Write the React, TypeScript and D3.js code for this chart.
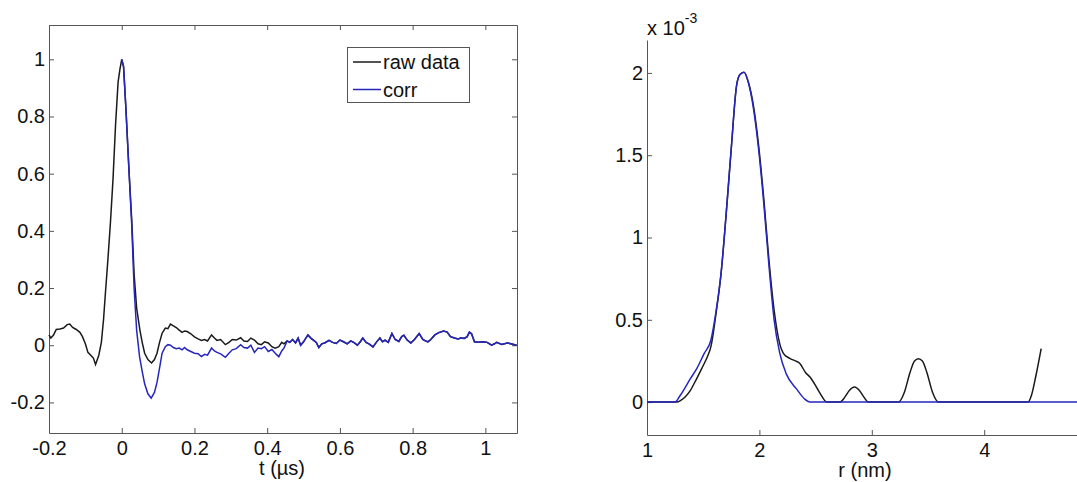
import React, { useRef, useEffect } from 'react';
import * as d3 from 'd3';

// left panel: time trace, t in µs
const tRaw = [-0.2, -0.195, -0.188, -0.18, -0.17, -0.16, -0.15, -0.143, -0.135, -0.125, -0.115, -0.108, -0.1, -0.093, -0.085, -0.078, -0.072, -0.063, -0.056, -0.05, -0.045, -0.038, -0.031, -0.024, -0.017, -0.01, -0.005, 0, 0.005, 0.011, 0.02, 0.0275, 0.034, 0.041, 0.05, 0.056, 0.063, 0.072, 0.082, 0.09, 0.097, 0.104, 0.111, 0.12, 0.127, 0.134, 0.142, 0.15, 0.158, 0.166, 0.173, 0.18, 0.19, 0.2, 0.21, 0.219, 0.228, 0.236, 0.247, 0.255, 0.262, 0.272, 0.285, 0.295, 0.304, 0.315, 0.327, 0.336, 0.346, 0.355, 0.365, 0.375, 0.384, 0.393, 0.403, 0.413, 0.422, 0.432, 0.44, 0.446];
const vRaw = [0.036, 0.025, 0.035, 0.055, 0.057, 0.06, 0.072, 0.074, 0.062, 0.055, 0.045, 0.03, 0.005, -0.025, -0.035, -0.045, -0.067, -0.035, 0.01, 0.09, 0.18, 0.3, 0.43, 0.58, 0.77, 0.92, 0.965, 1, 0.975, 0.84, 0.61, 0.44, 0.25, 0.13, 0.053, 0.012, -0.028, -0.05, -0.062, -0.05, -0.028, 0.01, 0.042, 0.06, 0.058, 0.074, 0.068, 0.062, 0.053, 0.045, 0.05, 0.048, 0.04, 0.029, 0.022, 0.017, 0.02, 0.015, 0.036, 0.025, 0.017, 0.02, 0.002, 0.01, 0.02, 0.018, 0.026, 0.015, 0.013, 0.025, 0.018, 0.005, 0.002, 0.012, 0.008, -0.005, -0.01, -0.005, 0.01, 0.005];

const tCorr = [0, 0.005, 0.011, 0.02, 0.0275, 0.034, 0.041, 0.049, 0.056, 0.063, 0.072, 0.081, 0.09, 0.097, 0.104, 0.111, 0.12, 0.127, 0.134, 0.142, 0.15, 0.158, 0.166, 0.173, 0.18, 0.19, 0.2, 0.21, 0.219, 0.228, 0.236, 0.247, 0.255, 0.262, 0.272, 0.285, 0.295, 0.304, 0.315, 0.327, 0.336, 0.346, 0.355, 0.365, 0.375, 0.384, 0.393, 0.403, 0.413, 0.422, 0.432, 0.44, 0.446];
const vCorr = [1, 0.975, 0.84, 0.61, 0.42, 0.2, 0.053, -0.04, -0.09, -0.135, -0.17, -0.185, -0.165, -0.13, -0.08, -0.028, -0.005, 0.002, 0, -0.008, -0.012, -0.01, -0.016, -0.008, -0.016, -0.022, -0.028, -0.03, -0.04, -0.032, -0.035, -0.01, -0.02, -0.025, -0.03, -0.042, -0.028, -0.016, -0.012, 0.002, -0.008, -0.01, 0, -0.025, -0.01, -0.012, -0.005, -0.022, -0.015, -0.028, -0.04, -0.02, -0.01];

// after ~0.45 µs both traces coincide
const tTail = [0.455, 0.462, 0.47, 0.478, 0.485, 0.492, 0.5, 0.512, 0.52, 0.527, 0.535, 0.542, 0.55, 0.558, 0.57, 0.58, 0.59, 0.6, 0.61, 0.62, 0.63, 0.64, 0.648, 0.656, 0.663, 0.672, 0.681, 0.691, 0.7, 0.71, 0.717, 0.724, 0.733, 0.743, 0.752, 0.762, 0.77, 0.776, 0.785, 0.795, 0.805, 0.818, 0.828, 0.835, 0.842, 0.85, 0.861, 0.872, 0.885, 0.895, 0.904, 0.915, 0.925, 0.932, 0.942, 0.95, 0.956, 0.962, 0.97, 0.98, 0.993, 1.005, 1.017, 1.025, 1.031, 1.045, 1.06, 1.07, 1.086];
const vTail = [0.015, 0.01, 0.02, 0.008, 0.025, 0, 0.012, 0.036, 0.025, 0.018, 0.01, -0.008, 0.005, 0.008, 0.017, 0.01, 0.006, 0.018, 0.012, 0.005, 0.015, 0.008, 0, 0.012, 0.025, 0.01, 0.004, -0.006, 0.01, 0.025, 0.012, 0.018, 0.01, 0.041, 0.02, 0.013, 0.03, 0.035, 0.018, 0.008, 0.02, 0.041, 0.02, 0.015, 0.012, 0.02, 0.036, 0.044, 0.05, 0.046, 0.03, 0.025, 0.022, 0.025, 0.024, 0.03, 0.046, 0.04, 0.012, 0.01, 0.012, 0.01, 0, 0.005, 0.01, 0.003, 0.008, 0.005, 0];

const tTicks = [-0.2, 0, 0.2, 0.4, 0.6, 0.8, 1];
const vTicks = [-0.2, 0, 0.2, 0.4, 0.6, 0.8, 1];
const legendLabels = ['raw data', 'corr'];

// right panel: distance distribution, P(r) in units of 1e-3
const rRaw = [1, 1.264, 1.3, 1.386, 1.44, 1.477, 1.508, 1.54, 1.568, 1.614, 1.659, 1.705, 1.751, 1.796, 1.827, 1.863, 1.903, 1.948, 1.994, 2.04, 2.085, 2.131, 2.18, 2.22, 2.27, 2.32, 2.36, 2.41, 2.45, 2.5, 2.54, 2.6, 2.719, 2.76, 2.8, 2.846, 2.89, 2.93, 2.97, 3.238, 3.29, 3.34, 3.38, 3.415, 3.45, 3.49, 3.54, 3.593, 4.39, 4.42, 4.46, 4.507];
const pRaw = [0, 0, 0.01, 0.071, 0.14, 0.19, 0.233, 0.28, 0.335, 0.538, 0.782, 1.148, 1.553, 1.919, 1.99, 2.004, 1.94, 1.797, 1.553, 1.228, 0.862, 0.558, 0.357, 0.29, 0.266, 0.25, 0.235, 0.18, 0.152, 0.1, 0.053, 0, 0, 0.03, 0.07, 0.091, 0.07, 0.03, 0, 0, 0.06, 0.18, 0.25, 0.264, 0.25, 0.18, 0.06, 0, 0, 0.04, 0.16, 0.325];

const rCorr = [1, 1.249, 1.295, 1.386, 1.44, 1.508, 1.568, 1.614, 1.659, 1.705, 1.751, 1.796, 1.827, 1.863, 1.903, 1.948, 1.994, 2.04, 2.085, 2.131, 2.18, 2.24, 2.33, 2.4, 2.45, 5];
const pCorr = [0, 0, 0.04, 0.142, 0.2, 0.294, 0.376, 0.55, 0.782, 1.148, 1.553, 1.919, 1.99, 2.004, 1.94, 1.78, 1.53, 1.2, 0.83, 0.5, 0.3, 0.17, 0.08, 0.02, 0, 0];

// the 5 tick falls outside the cropped figure
const rTicks = [1, 2, 3, 4];
const pTicks = [0, 0.5, 1, 1.5, 2];

const FONT = '"Liberation Sans", Arial, sans-serif';
const BLUE = '#2626bd';
const BLACK = '#1a1a1a';
const AXIS = '#555';

const zip = (xs: number[], ys: number[]) => xs.map((x, i) => [x, ys[i]] as [number, number]);
const fmt = (d: number) => `${+(+d).toFixed(1)}`;

const App = () => {
  const svgRef = useRef<SVGSVGElement>(null);

  useEffect(() => {
    const svg = d3.select(svgRef.current);
    svg.selectAll('*').remove();

    // ---------- left panel ----------
    const L = { left: 49, right: 517, top: 25, bottom: 433 };
    const x = d3.scaleLinear().domain([-0.2, 1.087]).range([L.left, L.right]);
    const y = d3.scaleLinear().domain([-0.307, 1.12]).range([L.bottom, L.top]);

    const styleAxis = (g: any) => {
      g.selectAll('.domain').attr('stroke', AXIS);
      g.selectAll('.tick line').attr('stroke', AXIS);
      g.selectAll('.tick text').attr('fill', '#111').style('font-size', '20px').style('font-family', FONT);
    };

    svg.append('g').attr('transform', `translate(0,${L.bottom})`)
      .call(d3.axisBottom(x).tickValues(tTicks).tickFormat(fmt as any).tickSizeInner(-5).tickSizeOuter(0).tickPadding(8))
      .call(styleAxis);
    svg.append('g').attr('transform', `translate(0,${L.top})`)
      .call(d3.axisTop(x).tickValues(tTicks).tickFormat(() => '').tickSizeInner(-5).tickSizeOuter(0))
      .call(styleAxis);
    svg.append('g').attr('transform', `translate(${L.left},0)`)
      .call(d3.axisLeft(y).tickValues(vTicks).tickFormat(fmt as any).tickSizeInner(-5).tickSizeOuter(0).tickPadding(4))
      .call(styleAxis);
    svg.append('g').attr('transform', `translate(${L.right},0)`)
      .call(d3.axisRight(y).tickValues(vTicks).tickFormat(() => '').tickSizeInner(-5).tickSizeOuter(0))
      .call(styleAxis);

    const lineL = d3.line<[number, number]>().x(d => x(d[0])).y(d => y(d[1]));
    const tail = zip(tTail, vTail);
    svg.append('path').datum(zip(tRaw, vRaw).concat(tail))
      .attr('fill', 'none').attr('stroke', BLACK).attr('stroke-width', 1.5).attr('d', lineL);
    svg.append('path').datum(zip(tCorr, vCorr).concat(tail))
      .attr('fill', 'none').attr('stroke', BLUE).attr('stroke-width', 1.5).attr('d', lineL);

    svg.append('text').attr('x', 282).attr('y', 475).attr('text-anchor', 'middle')
      .style('font-size', '20px').style('font-family', FONT).attr('fill', '#111').text('t (µs)');

    // legend
    const lg = svg.append('g');
    lg.append('rect').attr('x', 347.5).attr('y', 47.5).attr('width', 122).attr('height', 55)
      .attr('fill', '#fff').attr('stroke', AXIS);
    legendLabels.forEach((name, i) => {
      const cy = 62 + i * 27.5;
      lg.append('line').attr('x1', 353).attr('x2', 381).attr('y1', cy).attr('y2', cy)
        .attr('stroke', i === 0 ? BLACK : BLUE).attr('stroke-width', 1.5);
      lg.append('text').attr('x', 383).attr('y', cy + 7).style('font-size', '20px')
        .style('font-family', FONT).attr('fill', '#111').text(name);
    });

    // ---------- right panel ----------
    const R = { left: 647, right: 1096.6, top: 40, bottom: 435 };
    const xr = d3.scaleLinear().domain([1, 5]).range([R.left, R.right]);
    const yr = d3.scaleLinear().domain([-0.2, 2.2]).range([R.bottom, R.top]);

    svg.append('g').attr('transform', `translate(0,${R.bottom})`)
      .call(d3.axisBottom(xr).tickValues(rTicks).tickFormat(fmt as any).tickSizeInner(-5).tickSizeOuter(0).tickPadding(8))
      .call(styleAxis);
    svg.append('g').attr('transform', `translate(${R.left},0)`)
      .call(d3.axisLeft(yr).tickValues(pTicks).tickFormat(fmt as any).tickSizeInner(-5).tickSizeOuter(0).tickPadding(4))
      .call(styleAxis);

    const lineR = d3.line<[number, number]>().x(d => xr(d[0])).y(d => yr(d[1])).curve(d3.curveMonotoneX);
    svg.append('path').datum(zip(rRaw, pRaw))
      .attr('fill', 'none').attr('stroke', BLACK).attr('stroke-width', 1.5).attr('d', lineR);
    svg.append('path').datum(zip(rCorr, pCorr))
      .attr('fill', 'none').attr('stroke', BLUE).attr('stroke-width', 1.5).attr('d', lineR);

    svg.append('text').attr('x', 865).attr('y', 477).attr('text-anchor', 'middle')
      .style('font-size', '20px').style('font-family', FONT).attr('fill', '#111').text('r (nm)');

    const exp = svg.append('text').attr('x', 647).attr('y', 35)
      .style('font-size', '20px').style('font-family', FONT).attr('fill', '#111');
    exp.append('tspan').text('x 10');
    exp.append('tspan').attr('dy', -12).style('font-size', '14px').text('-3');
  }, []);

  return (
    <svg ref={svgRef} width={1077} height={482}
      style={{ position: 'absolute', left: 0, top: 0, background: '#fff' }} />
  );
};

export default App;
